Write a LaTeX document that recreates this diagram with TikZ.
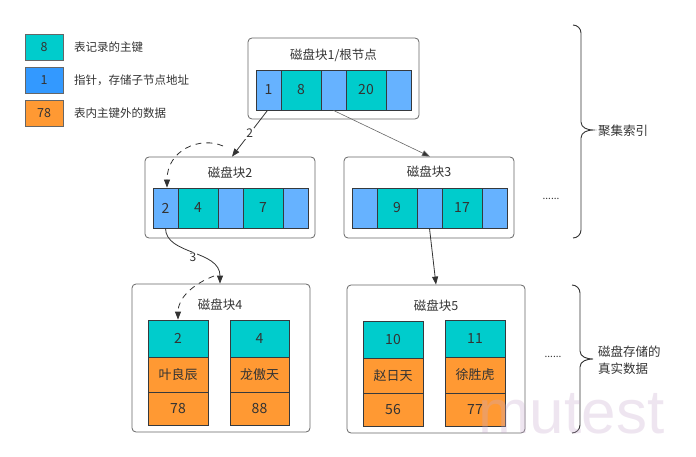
\documentclass[tikz,border=0pt]{standalone}
\usepackage{fontspec}
\setmainfont{Noto Sans CJK SC}
\newfontfamily\wmfont{Liberation Sans}
\usetikzlibrary{arrows.meta}
\definecolor{keyc}{RGB}{0,204,204}
\definecolor{ptrc}{RGB}{102,178,255}
\definecolor{ptrl}{RGB}{51,153,255}
\definecolor{datc}{RGB}{255,153,51}
\definecolor{txt}{RGB}{51,51,51}
\definecolor{bord}{RGB}{54,57,61}
\definecolor{wm}{RGB}{200,170,205}
\tikzset{
  cellbox/.style={draw=bord, line width=0.8pt, inner sep=0pt, text=txt, font=\fontsize{14}{16}\selectfont},
  keycell/.style={cellbox, fill=keyc},
  ptrcell/.style={cellbox, fill=ptrc},
  datcell/.style={cellbox, fill=datc},
  narrow/.style={minimum width=25pt, minimum height=40pt},
  wide/.style={minimum width=40pt, minimum height=40pt},
  blockbox/.style={draw=black!60, line width=0.8pt, rounded corners=4pt, inner sep=0pt},
  titletext/.style={text=txt, font=\fontsize{12.5}{14}\selectfont, inner sep=0pt},
  legendtext/.style={text=txt, font=\fontsize{11.5}{13}\selectfont, anchor=west, inner sep=0pt},
  legbox/.style={draw=black!60, line width=0.9pt, inner sep=0pt, minimum width=38pt, minimum height=26pt, text=txt, font=\fontsize{12.5}{14}\selectfont},
  arr/.style={draw=txt, line width=0.8pt, -{Triangle[length=8pt,width=6pt]}},
  thinarr/.style={draw=black!60, line width=0.6pt, -{Triangle[length=8pt,width=6pt,fill=txt]}},
  dasharr/.style={arr, dash pattern=on 6pt off 5pt},
  lbl/.style={fill=white, inner sep=1pt, text=txt, font=\fontsize{12}{14}\selectfont},
  bracepath/.style={draw=txt, line width=0.9pt},
  sidetext/.style={text=txt, font=\fontsize{12.5}{17}\selectfont, anchor=west, align=left, inner sep=0pt},
}
\begin{document}
\begin{tikzpicture}[x=1pt,y=-1pt]
\useasboundingbox (0,0) rectangle (696,457);
% legend
\node[legbox, fill=keyc] (lg1) at (44,47) {8};
\node[legbox, fill=ptrl] (lg2) at (44,80) {1};
\node[legbox, fill=datc] (lg3) at (44,113) {78};
\node[legendtext] (lt1) at (74,47) {表记录的主键};
\node[legendtext] (lt2) at (74,80) {指针，存储子节点地址};
\node[legendtext] (lt3) at (74,113) {表内主键外的数据};
% root block
\node[blockbox, minimum width=171pt, minimum height=81pt] (b1) at (333.5,78.5) {};
\node[titletext] (t1) at (333.5,55) {磁盘块1/根节点};
\node[ptrcell, narrow] (r1) at (268.5,90) {1};
\node[keycell, wide] (r2) at (301,90) {8};
\node[ptrcell, narrow] (r3) at (333.5,90) {};
\node[keycell, wide] (r4) at (366,90) {20};
\node[ptrcell, narrow] (r5) at (398.5,90) {};
% block 2
\node[blockbox, minimum width=170pt, minimum height=81pt] (b2) at (230,197.5) {};
\node[titletext] (t2) at (230,173) {磁盘块2};
\node[ptrcell, narrow] (p1) at (165.5,208) {2};
\node[keycell, wide] (p2) at (198,208) {4};
\node[ptrcell, narrow] (p3) at (230.5,208) {};
\node[keycell, wide] (p4) at (263,208) {7};
\node[ptrcell, narrow] (p5) at (295.5,208) {};
% block 3
\node[blockbox, minimum width=170pt, minimum height=81pt] (b3) at (429,197.5) {};
\node[titletext] (t3) at (429,172) {磁盘块3};
\node[ptrcell, narrow] (q1) at (364.5,208) {};
\node[keycell, wide] (q2) at (397,208) {9};
\node[ptrcell, narrow] (q3) at (429.5,208) {};
\node[keycell, wide] (q4) at (462,208) {17};
\node[ptrcell, narrow] (q5) at (494.5,208) {};
\node[text=txt, font=\fontsize{10}{12}\selectfont] (dots1) at (551,199) {......};
% block 4
\node[blockbox, minimum width=178pt, minimum height=148pt] (b4) at (221,358) {};
\node[titletext] (t4) at (220,305) {磁盘块4};
\node[keycell, minimum width=60pt, minimum height=37pt] (u1) at (178,338.5) {2};
\node[datcell, minimum width=60pt, minimum height=35pt, font=\fontsize{13}{15}\selectfont] (u2) at (178,374.5) {叶良辰};
\node[datcell, minimum width=60pt, minimum height=33pt] (u3) at (178,408.5) {78};
\node[keycell, minimum width=59pt, minimum height=37pt] (v1) at (259.5,338.5) {4};
\node[datcell, minimum width=59pt, minimum height=35pt, font=\fontsize{13}{15}\selectfont] (v2) at (259.5,374.5) {龙傲天};
\node[datcell, minimum width=59pt, minimum height=33pt] (v3) at (259.5,408.5) {88};
% block 5
\node[blockbox, minimum width=178pt, minimum height=148pt] (b5) at (436,359) {};
\node[titletext] (t5) at (436,306) {磁盘块5};
\node[keycell, minimum width=60pt, minimum height=37pt] (w1) at (393,339.5) {10};
\node[datcell, minimum width=60pt, minimum height=35pt, font=\fontsize{13}{15}\selectfont] (w2) at (393,375.5) {赵日天};
\node[datcell, minimum width=60pt, minimum height=33pt] (w3) at (393,409.5) {56};
\node[keycell, minimum width=60pt, minimum height=37pt] (z1) at (475,338.5) {11};
\node[datcell, minimum width=60pt, minimum height=36pt, font=\fontsize{13}{15}\selectfont] (z2) at (475,375) {徐胜虎};
\node[datcell, minimum width=60pt, minimum height=33pt] (z3) at (475,409.5) {77};
\node[text=txt, font=\fontsize{10}{12}\selectfont] (dots2) at (553,357) {......};
% connectors
\draw[arr] ([xshift=-1pt]r1.south) -- node[lbl, pos=0.5] (l2) {2} ([xshift=2pt]b2.north);
\draw[thinarr] (r3.south) -- ([xshift=1pt]b3.north);
\coordinate (ds1) at (223,146);
\draw[dasharr] (ds1) .. controls (200,136) and (167,150) .. ([xshift=1.5pt]p1.north);
\draw[arr] (p1.south) .. controls (166,255) and (220,250) .. ([xshift=-1pt]b4.north);
\node[lbl] (l3) at (193,257) {3};
\coordinate (ds2) at (214,276);
\draw[dasharr] (ds2) .. controls (193,284) and (178,298) .. (u1.north);
\draw[arr] (q3.south) -- (b5.north);
% braces
\draw[bracepath] (573,25) to[out=0,in=90] (581,33) -- (581,122) to[out=-90,in=180] (593,130)
  to[out=180,in=90] (581,138) -- (581,230) to[out=-90,in=0] (573,238);
\node[sidetext] (s1) at (598,131) {聚集索引};
\draw[bracepath] (572,285) to[out=0,in=90] (580,293) -- (580,351) to[out=-90,in=180] (593,359)
  to[out=180,in=90] (580,367) -- (580,425) to[out=-90,in=0] (572,433);
\node[sidetext] (s2) at (598,360) {磁盘存储的\\真实数据};
% watermark
\node[anchor=base west, inner sep=0pt, text=wm, text opacity=0.3, font=\wmfont\fontsize{62}{62}\selectfont] (wmk) at (478,433) {mutest};
\end{tikzpicture}
\end{document}
